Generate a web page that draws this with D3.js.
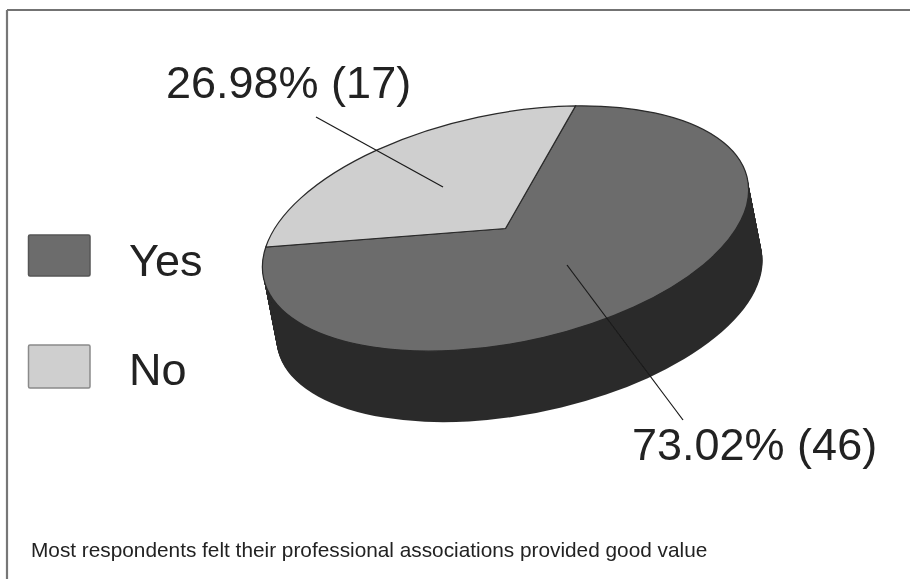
<!DOCTYPE html>
<html><head><meta charset="utf-8">
<script src="https://cdn.jsdelivr.net/npm/d3@7"></script>
<style>html,body{margin:0;padding:0;background:#fff}svg{display:block}text{font-family:"Liberation Sans",Arial,sans-serif;fill:#222}</style>
</head><body><svg id="c" width="910" height="579"></svg>
<script>
const categories = ["Yes", "No"];
const counts = [46, 17];
const percentLabels = ["73.02% (46)", "26.98% (17)"];
const topColors = ["#6c6c6c", "#cfcfcf"];
const legendStroke = ["#555555", "#8a8a8a"];
const sideColor = "#2c2c2c";
const caption = "Most respondents felt their professional associations provided good value";

const svg = d3.select("#c");
const defs = svg.append("defs");
defs.append("filter").attr("id","soft").append("feGaussianBlur").attr("stdDeviation",0.55);
const root = svg.append("g").attr("filter","url(#soft)");

// frame: top and left rules only
root.append("line").attr("x1",7).attr("x2",910).attr("y1",10).attr("y2",10).attr("stroke","#444").attr("stroke-width",1.6);
root.append("line").attr("x1",7).attr("x2",7).attr("y1",10).attr("y2",579).attr("stroke","#777").attr("stroke-width",2.2);

const noSpan = 2*Math.PI*counts[1]/d3.sum(counts);
const noStart = -75*Math.PI/180;
const pie = d3.pie().sort(null).value(d=>d)
  .startAngle(noStart+noSpan).endAngle(noStart+noSpan+2*Math.PI);
const arcs = pie(counts);
const R = 247, depth = 71, skew = 14/71;
const arc = d3.arc().innerRadius(0).outerRadius(R);
const tilt = "rotate(-11.5) scale(1,0.464)";

const depths = d3.range(depth,0,-1);
const g = root.append("g");
g.selectAll("path.side").data(depths).join("path").attr("class","side")
  .attr("transform",d=>`translate(${505.5+d*skew},${228.5+d}) ${tilt}`)
  .attr("d",arc(arcs[0])).attr("fill",sideColor);
g.selectAll("path.top").data(arcs).join("path").attr("class","top")
  .attr("transform",`translate(505.5,228.5) ${tilt}`)
  .attr("d",arc).attr("fill",(d,i)=>topColors[i]).attr("stroke","#2a2a2a")
  .attr("stroke-width",1.2).attr("vector-effect","non-scaling-stroke");

// leader lines
const leaders = [[[567,265],[683,420]],[[316,117],[443,187]]];
root.selectAll("line.lead").data(leaders).join("line").attr("class","lead")
  .attr("x1",d=>d[0][0]).attr("y1",d=>d[0][1]).attr("x2",d=>d[1][0]).attr("y2",d=>d[1][1])
  .attr("stroke","#1a1a1a").attr("stroke-width",1.2);

// labels
const labelPos = [[632,460],[166,98]];
root.selectAll("text.pct").data(percentLabels).join("text").attr("class","pct")
  .attr("x",(d,i)=>labelPos[i][0]).attr("y",(d,i)=>labelPos[i][1])
  .attr("font-size",45).text(d=>d);

// legend
const legY = [235,345], legH = [41,43], legTextY = [276,385];
categories.forEach((c,i)=>{
  root.append("rect").attr("x",28.5).attr("y",legY[i]).attr("width",61.5).attr("height",legH[i]).attr("rx",1.5)
    .attr("fill",topColors[i]).attr("stroke",legendStroke[i]).attr("stroke-width",1.5);
  root.append("text").attr("x",129).attr("y",legTextY[i]).attr("font-size",45).text(c);
});
root.append("text").attr("x",31).attr("y",557).attr("font-size",20.8).text(caption);
</script></body></html>
